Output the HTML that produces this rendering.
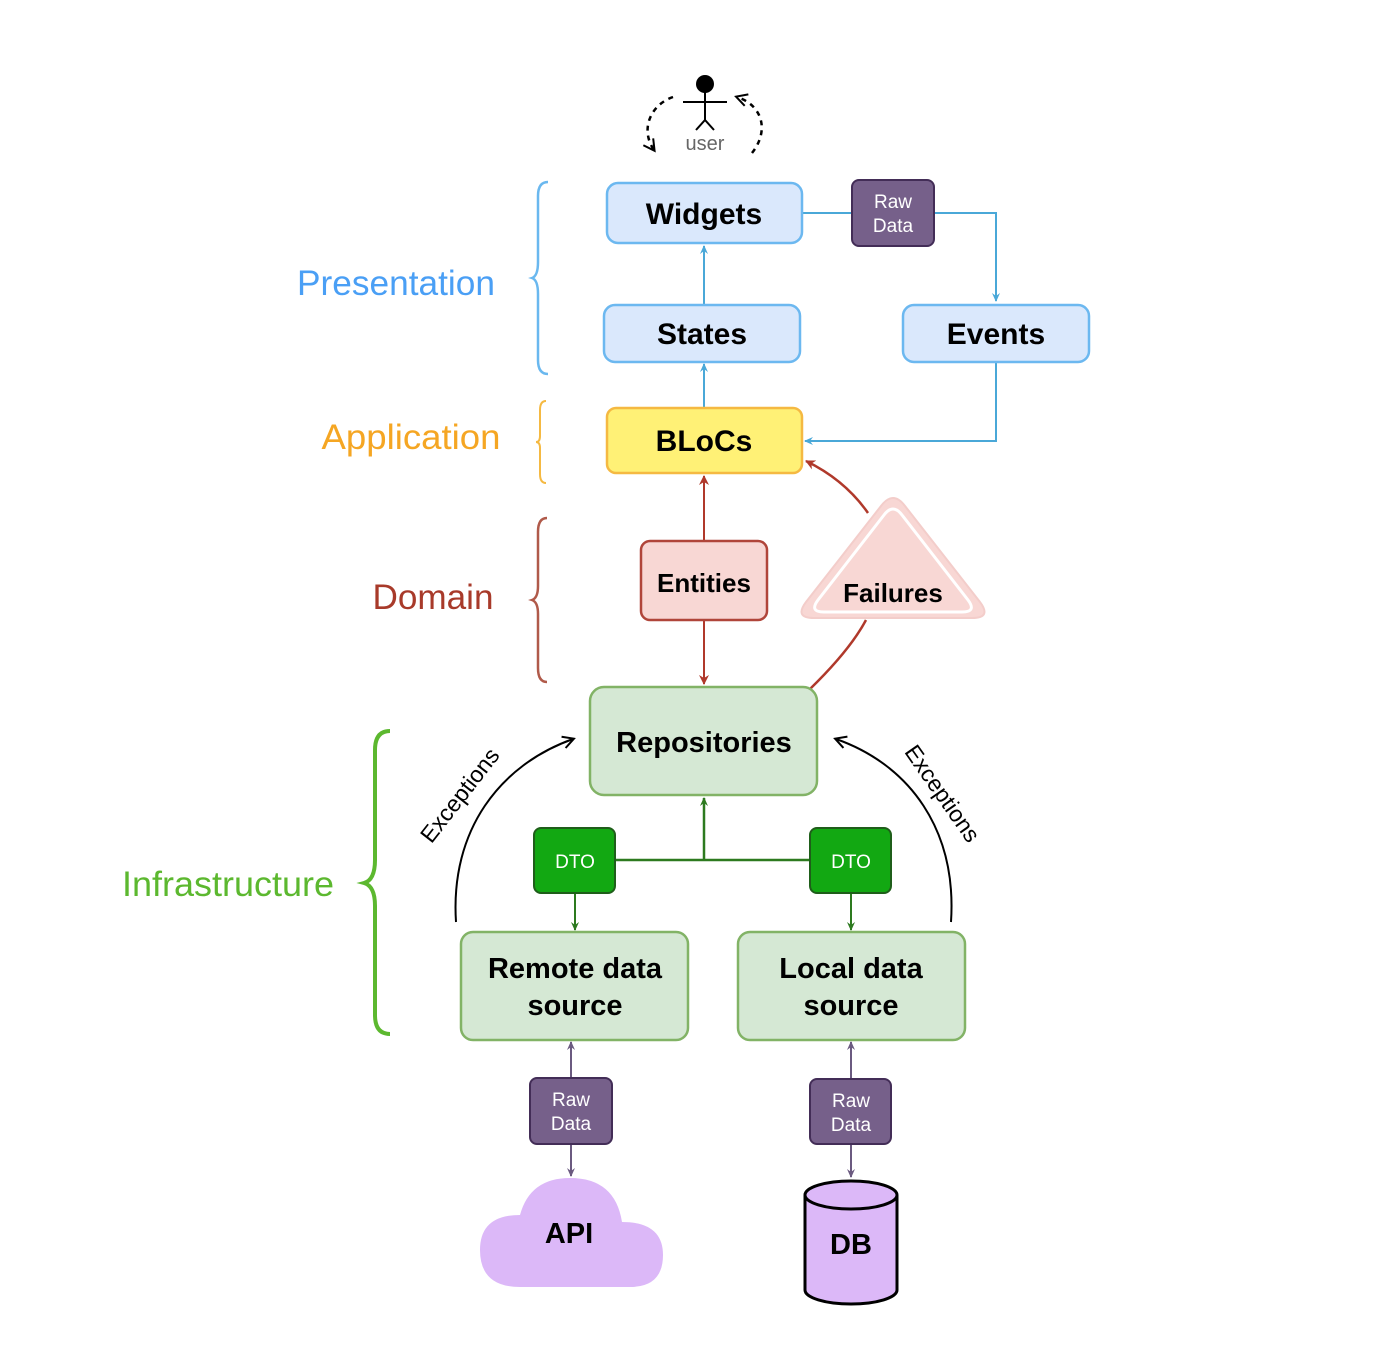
<!DOCTYPE html>
<html><head><meta charset="utf-8"><style>html,body{margin:0;background:#fff}svg{display:block}text{font-family:"Liberation Sans",sans-serif}</style></head><body>
<svg width="1400" height="1361" viewBox="0 0 1400 1361" xmlns="http://www.w3.org/2000/svg">
<defs>
<marker id="ab" markerWidth="10" markerHeight="10" refX="8" refY="5" orient="auto" markerUnits="userSpaceOnUse"><path d="M0,1 L9,5 L0,9 L3,5 Z" fill="#4aa8d8"/></marker>
<marker id="ar" markerWidth="12" markerHeight="12" refX="9" refY="6" orient="auto" markerUnits="userSpaceOnUse"><path d="M0,1 L10,6 L0,11 L3,6 Z" fill="#b0392b"/></marker>
<marker id="ag" markerWidth="10" markerHeight="10" refX="8" refY="5" orient="auto" markerUnits="userSpaceOnUse"><path d="M0,1 L9,5 L0,9 L3,5 Z" fill="#2d7a1f"/></marker>
<marker id="ap" markerWidth="10" markerHeight="10" refX="8" refY="5" orient="auto" markerUnits="userSpaceOnUse"><path d="M0,1 L9,5 L0,9 L3,5 Z" fill="#6b5a80"/></marker>
<marker id="ak" markerWidth="14" markerHeight="14" refX="11" refY="7" orient="auto" markerUnits="userSpaceOnUse"><path d="M1,1 L12,7 L1,13" fill="none" stroke="#000" stroke-width="2"/></marker>
</defs>

<circle cx="705" cy="84" r="9" fill="#000"/>
<line x1="705" y1="90" x2="705" y2="120" stroke="#000" stroke-width="2"/>
<line x1="683" y1="102" x2="727" y2="102" stroke="#000" stroke-width="2"/>
<path d="M696,130 L705,120 L714,130" fill="none" stroke="#000" stroke-width="2"/>
<text x="705" y="150" font-size="20" fill="#666" text-anchor="middle">user</text>
<path d="M673,97 C650,105 640,130 654,150" fill="none" stroke="#000" stroke-width="2.5" stroke-dasharray="5,5" marker-end="url(#ak)"/>
<path d="M752,153 C770,130 762,105 737,97" fill="none" stroke="#000" stroke-width="2.5" stroke-dasharray="5,5" marker-end="url(#ak)"/>

<path d="M548,182 Q538,182 538,196 L538,262 Q538,276 532,278 Q538,280 538,294 L538,360 Q538,374 548,374" fill="none" stroke="#6ab8ef" stroke-width="2.5"/>
<path d="M546,401 Q540,401 540,410 L540,436 Q540,442 536,442 Q540,442 540,448 L540,474 Q540,483 546,483" fill="none" stroke="#f5b942" stroke-width="2"/>
<path d="M547,518 Q538,518 538,532 L538,586 Q538,598 532,600 Q538,602 538,614 L538,668 Q538,682 547,682" fill="none" stroke="#b05a4a" stroke-width="2.5"/>
<path d="M390,731 Q375,731 375,750 L375,860 Q375,880 364,883 Q375,886 375,906 L375,1015 Q375,1034 390,1034" fill="none" stroke="#5cb82f" stroke-width="4"/>

<text x="396" y="295" font-size="35" fill="#4a9ff5" text-anchor="middle" textLength="198" lengthAdjust="spacingAndGlyphs">Presentation</text>
<text x="411" y="449" font-size="35" fill="#f5a623" text-anchor="middle" textLength="179" lengthAdjust="spacingAndGlyphs">Application</text>
<text x="433" y="609" font-size="35" fill="#a83a2a" text-anchor="middle" textLength="121" lengthAdjust="spacingAndGlyphs">Domain</text>
<text x="228" y="896" font-size="35" fill="#5cb82f" text-anchor="middle" textLength="212" lengthAdjust="spacingAndGlyphs">Infrastructure</text>

<line x1="704" y1="304" x2="704" y2="246" stroke="#4aa8d8" stroke-width="2" marker-end="url(#ab)"/>
<line x1="704" y1="408" x2="704" y2="364" stroke="#4aa8d8" stroke-width="2" marker-end="url(#ab)"/>
<path d="M802,213 L996,213 L996,301" fill="none" stroke="#4aa8d8" stroke-width="2" marker-end="url(#ab)"/>
<path d="M996,362 L996,441 L805,441" fill="none" stroke="#4aa8d8" stroke-width="2" marker-end="url(#ab)"/>

<line x1="704" y1="541" x2="704" y2="476" stroke="#b0392b" stroke-width="2" marker-end="url(#ar)"/>
<line x1="704" y1="620" x2="704" y2="684" stroke="#b0392b" stroke-width="2" marker-end="url(#ar)"/>
<path d="M810,689 Q850,650 866,620" fill="none" stroke="#b0392b" stroke-width="2.5"/>
<path d="M868,513 Q845,480 806,461" fill="none" stroke="#b0392b" stroke-width="2.5" marker-end="url(#ar)"/>

<path d="M615,860 L810,860" fill="none" stroke="#2d7a1f" stroke-width="2.5"/>
<line x1="704" y1="860" x2="704" y2="798" stroke="#2d7a1f" stroke-width="2.5" marker-end="url(#ag)"/>
<line x1="575" y1="893" x2="575" y2="930" stroke="#2d7a1f" stroke-width="2" marker-end="url(#ag)"/>
<line x1="851" y1="893" x2="851" y2="930" stroke="#2d7a1f" stroke-width="2" marker-end="url(#ag)"/>

<path d="M456,922 C450,830 500,765 573,739" fill="none" stroke="#000" stroke-width="2" marker-end="url(#ak)"/>
<path d="M951,922 C957,830 910,765 836,739" fill="none" stroke="#000" stroke-width="2" marker-end="url(#ak)"/>
<text x="0" y="0" font-size="23" fill="#000" text-anchor="middle" transform="translate(466,800) rotate(-52)">Exceptions</text>
<text x="0" y="0" font-size="23" fill="#000" text-anchor="middle" transform="translate(936,798) rotate(55)">Exceptions</text>

<line x1="571" y1="1078" x2="571" y2="1042" stroke="#6b5a80" stroke-width="2" marker-end="url(#ap)"/>
<line x1="571" y1="1144" x2="571" y2="1176" stroke="#6b5a80" stroke-width="2" marker-end="url(#ap)"/>
<line x1="851" y1="1079" x2="851" y2="1042" stroke="#6b5a80" stroke-width="2" marker-end="url(#ap)"/>
<line x1="851" y1="1144" x2="851" y2="1177" stroke="#6b5a80" stroke-width="2" marker-end="url(#ap)"/>

<g font-weight="bold" text-anchor="middle">
<rect x="607" y="183" width="195" height="60" rx="11" fill="#dae8fc" stroke="#6cb8f0" stroke-width="2.5"/>
<text x="704" y="224" font-size="30">Widgets</text>
<rect x="604" y="305" width="196" height="57" rx="11" fill="#dae8fc" stroke="#6cb8f0" stroke-width="2.5"/>
<text x="702" y="344" font-size="30">States</text>
<rect x="903" y="305" width="186" height="57" rx="11" fill="#dae8fc" stroke="#6cb8f0" stroke-width="2.5"/>
<text x="996" y="344" font-size="30">Events</text>
<rect x="852" y="180" width="82" height="66" rx="7" fill="#76608a" stroke="#432d57" stroke-width="2"/>
<text x="893" y="208" font-size="19" fill="#fff" font-weight="normal">Raw</text>
<text x="893" y="232" font-size="19" fill="#fff" font-weight="normal">Data</text>
<rect x="607" y="408" width="195" height="65" rx="9" fill="#fff176" stroke="#f5b942" stroke-width="2.5"/>
<text x="704" y="451" font-size="30">BLoCs</text>
<rect x="641" y="541" width="126" height="79" rx="9" fill="#f8d7d4" stroke="#b0453a" stroke-width="2.5"/>
<text x="704" y="592" font-size="26">Entities</text>
<path d="M881,506 Q893,490 905,506 L980,602 Q992,618 972,618 L814,618 Q794,618 806,602 Z" fill="#f8d7d4" stroke="#f3cdca" stroke-width="2"/>
<path d="M884,515 Q893,503 902,515 L968,600 Q977,612 962,612 L824,612 Q809,612 818,600 Z" fill="#f8d7d4" stroke="#fff" stroke-width="3"/>
<text x="893" y="602" font-size="26">Failures</text>
<rect x="590" y="687" width="227" height="108" rx="14" fill="#d5e8d4" stroke="#82b366" stroke-width="2.5"/>
<text x="704" y="752" font-size="29">Repositories</text>
<rect x="534" y="828" width="81" height="65" rx="7" fill="#12a812" stroke="#1f5e1a" stroke-width="2"/>
<text x="575" y="868" font-size="19" fill="#fff" font-weight="normal">DTO</text>
<rect x="810" y="828" width="81" height="65" rx="7" fill="#12a812" stroke="#1f5e1a" stroke-width="2"/>
<text x="851" y="868" font-size="19" fill="#fff" font-weight="normal">DTO</text>
<rect x="461" y="932" width="227" height="108" rx="12" fill="#d5e8d4" stroke="#82b366" stroke-width="2.5"/>
<text x="575" y="978" font-size="29">Remote data</text>
<text x="575" y="1015" font-size="29">source</text>
<rect x="738" y="932" width="227" height="108" rx="12" fill="#d5e8d4" stroke="#82b366" stroke-width="2.5"/>
<text x="851" y="978" font-size="29">Local data</text>
<text x="851" y="1015" font-size="29">source</text>
<rect x="530" y="1078" width="82" height="66" rx="7" fill="#76608a" stroke="#432d57" stroke-width="2"/>
<text x="571" y="1106" font-size="19" fill="#fff" font-weight="normal">Raw</text>
<text x="571" y="1130" font-size="19" fill="#fff" font-weight="normal">Data</text>
<rect x="810" y="1079" width="81" height="65" rx="7" fill="#76608a" stroke="#432d57" stroke-width="2"/>
<text x="851" y="1107" font-size="19" fill="#fff" font-weight="normal">Raw</text>
<text x="851" y="1131" font-size="19" fill="#fff" font-weight="normal">Data</text>
<path d="M520,1287 Q480,1287 480,1250 Q480,1215 520,1215 Q530,1178 570,1178 Q615,1178 622,1222 Q663,1222 663,1255 Q663,1287 630,1287 Z" fill="#dcb8f8"/>
<text x="569" y="1243" font-size="29">API</text>
<path d="M805,1195 L805,1290 A46,14 0 0 0 897,1290 L897,1195" fill="#dcb8f8" stroke="#000" stroke-width="3"/>
<ellipse cx="851" cy="1195" rx="46" ry="14" fill="#dcb8f8" stroke="#000" stroke-width="3"/>
<text x="851" y="1254" font-size="29">DB</text>
</g>
</svg>
</body></html>
